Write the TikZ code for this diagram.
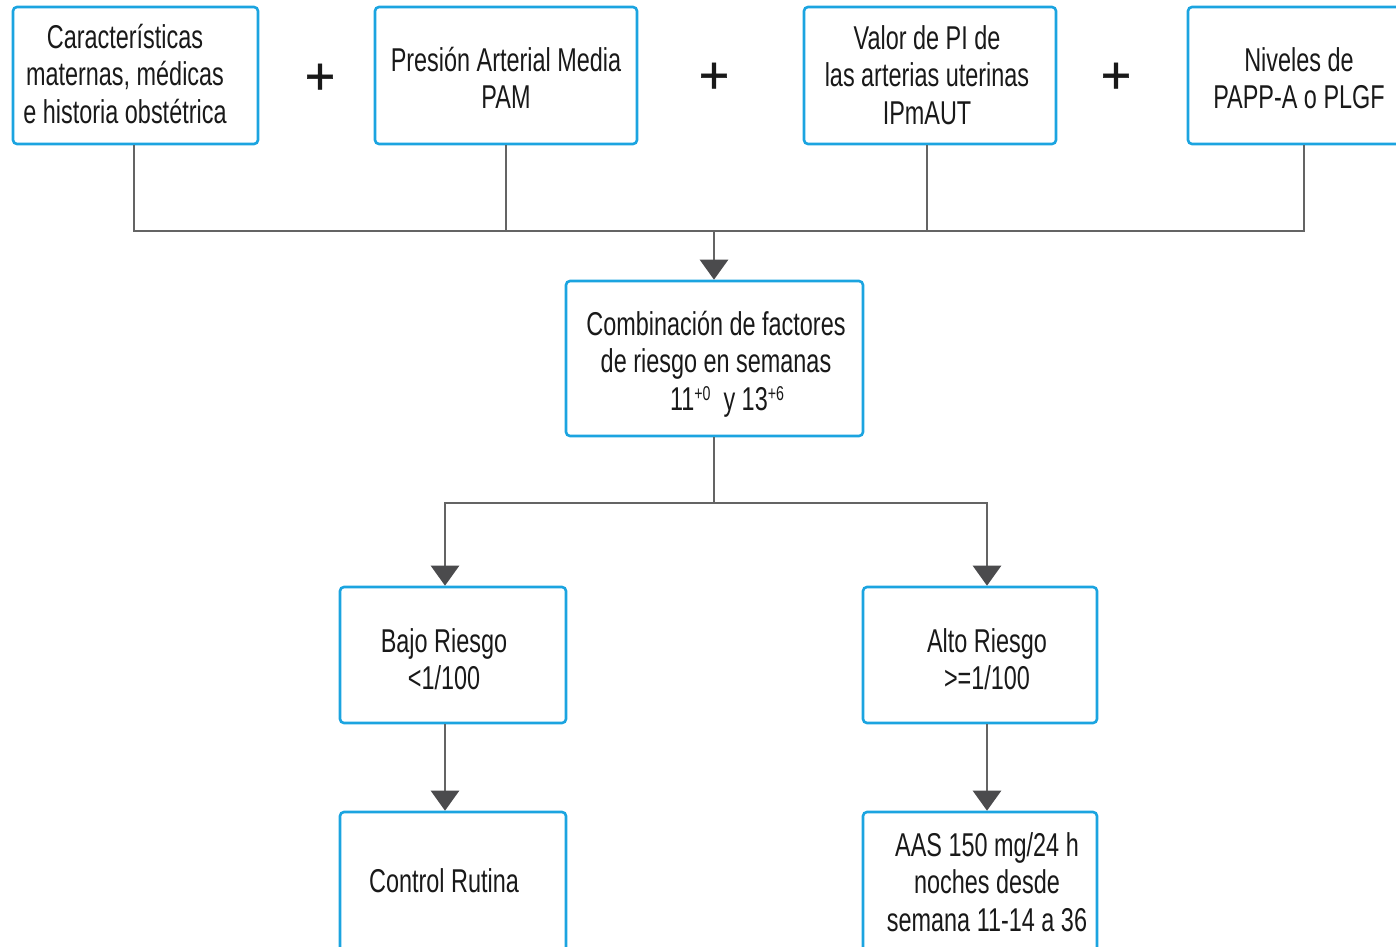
\documentclass[tikz,border=0pt]{standalone}
\usepackage{fontspec}
\setmainfont{Liberation Sans}[FakeStretch=0.71]
\newfontfamily\plusfont{Liberation Sans}[FakeBold=1.2]
\usetikzlibrary{arrows.meta}
\definecolor{boxblue}{RGB}{27,164,224}
\definecolor{linegray}{RGB}{100,100,100}
\definecolor{headgray}{RGB}{75,75,77}
\definecolor{ink}{RGB}{25,25,25}
\newcommand{\sptxt}[1]{\raisebox{10pt}{\fontsize{20}{20}\selectfont #1}}
\tikzset{
  box/.style={draw=boxblue, line width=2.6pt, rounded corners=4pt, fill=white, inner sep=0pt},
  lbl/.style={text=ink, align=center, font=\fontsize{33}{37.5}\selectfont, inner sep=0pt},
  link/.style={draw=linegray, line width=2.6pt},
  arr/.style={link, -{Triangle[width=28pt,length=20pt,color=headgray]}},
  plussign/.style={font=\plusfont\fontsize{52}{52}\selectfont, text=ink, inner sep=0pt}
}
\begin{document}
\begin{tikzpicture}[x=1pt,y=-1pt]
\useasboundingbox (0,0) rectangle (1396,946);

% top row of risk factors
\node[box, minimum width=245pt, minimum height=137pt] (b1) at (135.5,75.5) {};
\node[box, minimum width=262pt, minimum height=137pt] (b2) at (506,75.5) {};
\node[box, minimum width=252pt, minimum height=137pt] (b3) at (930,75.5) {};
\node[box, minimum width=224pt, minimum height=137pt] (b4) at (1300,75.5) {};
\node[lbl] (t1) at (125,74) {Características\\maternas, médicas\\e historia obstétrica};
\node[lbl] (t2) at (506,78) {Presión Arterial Media\\PAM};
\node[lbl] (t3) at (927,75) {Valor de PI de\\las arterias uterinas\\IPmAUT};
\node[lbl] (t4) at (1299,78) {Niveles de\\PAPP-A o PLGF};
\node[plussign] (p1) at (320,79) {+};
\node[plussign] (p2) at (714,78) {+};
\node[plussign] (p3) at (1116,78) {+};

% combined risk
\node[box, minimum width=297pt, minimum height=155pt] (b5) at (714.5,358.5) {};
\node[lbl] (t5) at (716,364) {Combinación de factores\\de riesgo en semanas\\\hspace*{22pt}11\sptxt{+0}\ \ y 13\sptxt{+6}};

% risk groups
\node[box, minimum width=226pt, minimum height=136pt] (b6) at (453,655) {};
\node[box, minimum width=234pt, minimum height=136pt] (b7) at (980,655) {};
\node[lbl] (t6) at (444,659) {Bajo Riesgo\\<1/100};
\node[lbl] (t7) at (987,659) {Alto Riesgo\\>=1/100};

% actions
\node[box, minimum width=226pt, minimum height=142pt] (b8) at (453,883) {};
\node[box, minimum width=234pt, minimum height=142pt] (b9) at (980,883) {};
\node[lbl] (t8) at (444,881) {Control Rutina};
\node[lbl] (t9) at (987,882) {AAS 150 mg/24 h\\noches desde\\semana 11-14 a 36};

% collector bus under the top row
\coordinate (busL) at (134,231);
\coordinate (busR) at (1304,231);
\coordinate (busM) at (714,231);
\coordinate (c3) at (927,231);
\draw[link] (b1.south -| busL) -- (busL) -- (busR) -- (b4.south -| busR);
\draw[link] (b2.south) -- (b2.south |- busL);
\draw[link] (b3.south -| c3) -- (c3);
\draw[arr] (busM) -- (b5.north -| busM);

% split into low / high risk
\coordinate (split) at (714,503);
\coordinate (sL) at (445,503);
\coordinate (sR) at (987,503);
\draw[link] (b5.south -| split) -- (split);
\draw[arr] (split) -- (sL) -- (b6.north -| sL);
\draw[arr] (split) -- (sR) -- (b7.north -| sR);
\draw[arr] (b6.south -| sL) -- (b8.north -| sL);
\draw[arr] (b7.south -| sR) -- (b9.north -| sR);
\end{tikzpicture}
\end{document}
